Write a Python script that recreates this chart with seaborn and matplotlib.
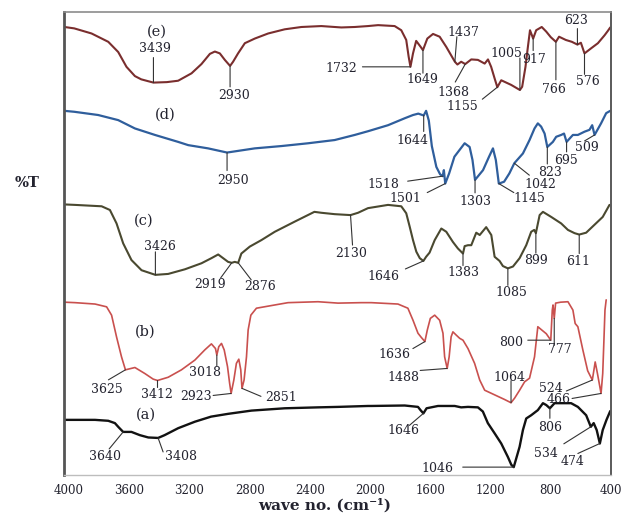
import numpy as np
import pandas as pd
import matplotlib
matplotlib.use("Agg")
import matplotlib.pyplot as plt
import seaborn as sns

# ---------------------------------------------------------------------------
# FTIR spectra: wavenumber (cm-1) against vertically offset transmittance
# ---------------------------------------------------------------------------
wn_e = [4030, 3965, 3850, 3739, 3673, 3618, 3562, 3520, 3474, 3439, 3350, 3275,
        3186, 3120, 3064, 3031, 2998, 2965, 2930, 2910, 2877, 2832, 2766, 2677,
        2567, 2456, 2324, 2191, 2102, 2014, 1947, 1837, 1793, 1760, 1744, 1732,
        1715, 1694, 1664, 1649, 1620, 1582, 1538, 1494, 1437, 1420, 1395, 1368,
        1328, 1284, 1239, 1217, 1196, 1173, 1155, 1129, 1096, 1063, 1005, 990,
        968, 952, 938, 917, 897, 860, 830, 800, 766, 745, 700, 660, 623, 600,
        576, 532, 487, 443, 420, 405]
t_e = [96.7, 96.4, 95.3, 93.5, 91.3, 88.1, 86.1, 85.4, 85.0, 84.7, 84.8, 85.1,
       86.7, 88.7, 90.9, 91.4, 91.0, 89.6, 88.3, 89.2, 91.0, 93.2, 94.2, 95.3,
       96.2, 96.7, 96.9, 96.6, 96.7, 96.9, 97.1, 96.9, 96.0, 93.9, 90.3, 88.1,
       91.0, 93.7, 92.4, 91.7, 94.2, 95.2, 94.6, 92.4, 89.2, 88.6, 89.2, 88.7,
       89.7, 89.6, 88.8, 89.7, 88.1, 85.6, 83.7, 85.2, 84.7, 84.2, 83.1, 83.8,
       88.1, 92.4, 96.0, 94.2, 96.0, 96.7, 95.7, 94.5, 93.5, 94.6, 93.9, 93.5,
       92.9, 93.3, 91.0, 92.1, 93.2, 94.9, 95.9, 96.6]

wn_d = [4030, 3965, 3806, 3673, 3562, 3429, 3275, 3208, 3076, 2950, 2766, 2589,
        2412, 2235, 2102, 2014, 1881, 1770, 1715, 1680, 1644, 1628, 1610, 1590,
        1560, 1535, 1518, 1510, 1501, 1475, 1440, 1372, 1339, 1320, 1303, 1250,
        1210, 1184, 1165, 1145, 1110, 1075, 1042, 985, 941, 908, 886, 864, 841,
        823, 786, 764, 731, 712, 695, 653, 620, 576, 543, 525, 509, 466, 432, 405]
t_d = [78.6, 78.4, 77.7, 76.6, 74.8, 73.4, 71.9, 71.2, 70.5, 69.6, 70.5, 71.0,
       71.6, 72.3, 73.4, 74.2, 75.5, 77.0, 77.7, 78.0, 77.6, 78.6, 76.5, 71.0,
       66.5, 64.9, 64.5, 65.8, 62.9, 65.1, 68.7, 71.6, 70.8, 68.0, 63.7, 65.8,
       68.7, 70.5, 68.0, 62.9, 63.3, 65.1, 67.3, 69.4, 72.3, 74.8, 75.9, 75.2,
       73.7, 70.8, 71.9, 73.0, 73.4, 73.7, 71.9, 73.4, 73.4, 74.1, 74.5, 75.5,
       73.4, 75.9, 78.1, 78.6]

wn_c = [4030, 3960, 3783, 3728, 3684, 3640, 3585, 3518, 3426, 3341, 3230, 3120,
        3054, 3009, 2976, 2943, 2919, 2899, 2876, 2855, 2799, 2722, 2633, 2500,
        2370, 2324, 2235, 2130, 2080, 2014, 1881, 1793, 1760, 1737, 1715, 1693,
        1670, 1646, 1628, 1605, 1571, 1527, 1494, 1450, 1417, 1383, 1372, 1350,
        1328, 1295, 1272, 1229, 1195, 1173, 1140, 1118, 1085, 1051, 1007, 963,
        930, 910, 899, 874, 852, 797, 731, 686, 642, 611, 565, 510, 455, 410]
t_c = [58.4, 58.3, 58.0, 57.2, 54.3, 50.0, 46.4, 44.2, 43.2, 43.4, 44.4, 45.7,
       46.8, 47.6, 46.8, 46.0, 45.8, 46.0, 45.8, 47.8, 49.3, 50.7, 52.5, 54.7,
       56.8, 56.6, 56.3, 56.1, 56.6, 57.6, 58.3, 58.0, 56.5, 53.6, 50.7, 48.2,
       46.8, 46.2, 47.1, 48.0, 50.7, 53.2, 52.5, 50.3, 48.9, 47.8, 49.4, 49.6,
       49.6, 52.3, 51.8, 53.5, 51.8, 47.1, 46.2, 45.1, 44.6, 45.0, 46.8, 49.6,
       52.5, 52.9, 52.2, 56.1, 56.8, 55.7, 54.3, 52.9, 52.2, 51.9, 52.3, 54.0,
       55.7, 58.3]

wn_b = [4030, 3960, 3827, 3750, 3717, 3684, 3651, 3625, 3562, 3496, 3441, 3412,
        3341, 3253, 3164, 3098, 3054, 3027, 3018, 3005, 2987, 2969, 2947, 2933,
        2923, 2905, 2888, 2872, 2859, 2851, 2837, 2821, 2810, 2792, 2755, 2633,
        2545, 2346, 2213, 2058, 1992, 1815, 1749, 1715, 1682, 1660, 1636, 1620,
        1600, 1571, 1538, 1516, 1505, 1488, 1475, 1462, 1450, 1428, 1405, 1383,
        1350, 1306, 1272, 1239, 1173, 1107, 1064, 1040, 1007, 974, 941, 908, 886,
        860, 830, 800, 790, 785, 777, 768, 735, 686, 653, 638, 620, 587, 555,
        524, 505, 490, 466, 455, 447, 440, 432]
t_b = [37.3, 37.2, 36.9, 36.3, 34.5, 29.8, 25.5, 22.7, 23.2, 21.9, 20.7, 20.4,
       21.1, 22.7, 24.8, 27.0, 28.3, 27.3, 25.9, 27.7, 28.4, 27.0, 23.4, 19.8,
       17.6, 20.5, 24.1, 25.0, 22.7, 18.7, 20.5, 25.5, 31.3, 34.5, 36.0, 36.7,
       37.2, 37.4, 37.1, 37.2, 37.2, 36.9, 36.0, 33.4, 30.6, 29.7, 28.8, 31.3,
       33.8, 34.5, 33.4, 30.6, 25.5, 23.0, 25.5, 29.8, 30.9, 30.2, 29.5, 29.1,
       27.3, 24.1, 20.5, 18.3, 17.3, 16.3, 15.6, 16.6, 18.3, 20.1, 20.9, 25.5,
       32.0, 31.3, 30.5, 29.1, 35.6, 36.7, 33.8, 37.1, 37.3, 37.4, 35.6, 32.7,
       32.0, 27.0, 22.5, 20.5, 24.4, 21.9, 17.6, 21.9, 29.1, 35.6, 37.8]

wn_a = [4030, 3960, 3827, 3739, 3695, 3670, 3640, 3585, 3529, 3473, 3408, 3365,
        3275, 3164, 3056, 2943, 2788, 2567, 2346, 2213, 2014, 1992, 1770, 1682,
        1665, 1646, 1625, 1549, 1438, 1395, 1350, 1284, 1251, 1218, 1173, 1129,
        1085, 1062, 1046, 1030, 1007, 985, 963, 930, 886, 852, 830, 806, 775,
        742, 665, 620, 565, 534, 515, 495, 474, 455, 430, 405]
t_a = [11.9, 11.9, 11.9, 11.7, 11.2, 10.3, 9.3, 9.3, 8.6, 8.1, 8.0, 8.6,
       10.1, 11.5, 12.6, 13.2, 13.9, 14.4, 14.6, 14.7, 14.9, 14.9, 15.0, 14.7,
       14.0, 13.3, 14.4, 14.9, 14.9, 14.6, 14.7, 14.6, 13.7, 11.2, 9.0, 6.8,
       3.9, 2.2, 1.7, 3.5, 6.1, 9.7, 12.2, 12.9, 14.0, 15.5, 15.1, 14.4, 15.5,
       15.5, 15.5, 14.7, 12.9, 10.4, 11.2, 9.7, 6.8, 9.7, 11.9, 13.8]

# Assigned band positions (cm-1) for each sample
peaks_a = [3640, 3408, 1646, 1046, 806, 534, 474]
peaks_b = [3625, 3412, 3018, 2923, 2851, 1636, 1488, 1064, 800, 777, 524, 466]
peaks_c = [3426, 2919, 2876, 2130, 1646, 1383, 1085, 899, 611]
peaks_d = [2950, 1644, 1518, 1501, 1303, 1145, 1042, 823, 695, 509]
peaks_e = [3439, 2930, 1732, 1649, 1437, 1368, 1155, 1005, 917, 766, 623, 576]

sample_names = ["(a)", "(b)", "(c)", "(d)", "(e)"]
tick_values = [4000, 3600, 3200, 2800, 2400, 2000, 1600, 1200, 800, 400]
tick_labels = [str(v) for v in tick_values]
x_title = "wave no. (cm\u207b\u00b9)"
y_title = "%T"

# ---------------------------------------------------------------------------
# Styling and layout
# ---------------------------------------------------------------------------
sns.set_style("white")
plt.rcParams["font.family"] = ["DejaVu Serif", "DejaVu Sans"]

traces = {
    "(a)": (wn_a, t_a, peaks_a),
    "(b)": (wn_b, t_b, peaks_b),
    "(c)": (wn_c, t_c, peaks_c),
    "(d)": (wn_d, t_d, peaks_d),
    "(e)": (wn_e, t_e, peaks_e),
}
colors = {"(a)": "#121212", "(b)": "#c9504e", "(c)": "#4a4930",
          "(d)": "#2f5e9c", "(e)": "#7a2e2e"}
widths = {"(a)": 1.7, "(b)": 1.2, "(c)": 1.5, "(d)": 1.6, "(e)": 1.5}

# name tag position (wavenumber, %T) for each spectrum
name_pos = {"(a)": (3487, 13.4), "(b)": (3494, 31.3), "(c)": (3507, 55.2),
            "(d)": (3361, 78.1), "(e)": (3414, 96.0)}

# leader line end and label centre, in pixel offsets from the band on the curve
label_layout = {
    "(e)": {3439: (0, 25, 2, 36), 2930: (0, -21, 4, -28), 1732: (-48, 0, -69, 0),
            1649: (0, -23, -1, -28), 1437: (2, 25, 9, 31), 1368: (-10, -18, -12, -27),
            1155: (-15, -12, -35, -18), 1005: (0, 32, -14, 38), 917: (0, -12, 1, -19),
            766: (0, -38, -2, -46), 623: (0, 16, -1, 26), 576: (0, -21, 3, -27)},
    "(d)": {2950: (0, -18, 6, -26), 1644: (0, -16, -11, -24), 1518: (-35, -5, -59, -7),
            1501: (-18, -9, -40, -13), 1303: (0, -13, 0, -20), 1145: (15, -9, 31, -13),
            1042: (15, -12, 26, -20), 823: (0, -17, 3, -24), 695: (0, -10, -1, -17),
            509: (-10, -6, -8, -11)},
    "(c)": {3426: (0, 23, 5, 30), 2919: (-11, -15, -22, -20), 2876: (13, -17, 22, -22),
            2130: (2, -30, 1, -37), 1646: (-18, -8, -40, -14), 1383: (0, -12, 0, -17),
            1085: (0, -17, 4, -23), 899: (0, -20, 0, -26), 611: (0, -19, -1, -25)},
    "(b)": {3625: (-17, -10, -19, -18), 3412: (0, -7, -1, -13), 3018: (0, -11, -12, -16),
            2923: (-18, -2, -35, -2), 2851: (19, -8, 39, -8), 1636: (-12, -7, -30, -11),
            1488: (-27, -2, -44, -8), 1064: (0, 22, -2, 27), 800: (-23, 0, -40, -1),
            777: (0, -27, 6, -30), 524: (-26, -11, -41, -7), 466: (-29, -5, -42, -5)},
    "(a)": {3640: (-14, -17, -18, -23), 3408: (5, -14, 23, -17), 1646: (-14, -12, -20, -16),
            1046: (-51, 0, -76, 0), 806: (0, -10, 0, -18), 534: (-27, -17, -45, -25),
            474: (-22, -10, -27, -17)},
}

W, H = 627, 514
fig = plt.figure(figsize=(W / 100, H / 100), dpi=100)
fig.patch.set_facecolor("white")
ax = fig.add_axes([64 / W, 1 - 475 / H, (611 - 64) / W, (475 - 11.7) / H])

text_color = "#23232f"
leader_color = "#333333"

for name, (wn, t, peaks) in traces.items():
    df = pd.DataFrame({"wavenumber": wn, "T": t})
    sns.lineplot(data=df, x="wavenumber", y="T", ax=ax, color=colors[name],
                 linewidth=widths[name], sort=False, estimator=None)
    xs = np.asarray(wn, dtype=float)[::-1]
    ys = np.asarray(t, dtype=float)[::-1]
    for p in peaks:
        yp = float(np.interp(p, xs, ys))
        lx, ly, tx, ty = label_layout[name][p]
        ax.annotate("", xy=(p, yp), xytext=(lx, ly), textcoords="offset pixels",
                    arrowprops=dict(arrowstyle="-", color=leader_color, lw=0.8,
                                    shrinkA=0, shrinkB=0))
        ax.annotate(str(p), xy=(p, yp), xytext=(tx, ty), textcoords="offset pixels",
                    ha="center", va="center_baseline", fontsize=9, color=text_color)
    nx, ny = name_pos[name]
    ax.text(nx, ny, name, ha="center", va="center_baseline", fontsize=10.5,
            color=text_color)

ax.set_xlim(4033, 403)
ax.set_ylim(0, 100)
ax.set_xticks(tick_values)
ax.set_xticklabels(tick_labels)
ax.set_yticks([])
ax.set_xlabel("")
ax.set_ylabel("")
ax.tick_params(axis="x", direction="out", length=3, width=0.8, color="#9a9a9a",
               pad=3.5, labelsize=8.5, labelcolor=text_color)

ax.spines["left"].set_color("#555555")
ax.spines["left"].set_linewidth(2.0)
ax.spines["top"].set_color("#8c8c8c")
ax.spines["top"].set_linewidth(1.2)
ax.spines["right"].set_color("#5a5a5a")
ax.spines["right"].set_linewidth(1.4)
ax.spines["bottom"].set_color("#bdbdbd")
ax.spines["bottom"].set_linewidth(1.0)

fig.text(27 / W, 1 - 183 / H, y_title, ha="center", va="center", fontsize=10.5,
         fontweight="bold", color=text_color)
fig.text(325 / W, 1 - 505 / H, x_title, ha="center", va="center", fontsize=11,
         fontweight="bold", color=text_color)

fig.savefig("out.png", dpi=100, facecolor="white")
